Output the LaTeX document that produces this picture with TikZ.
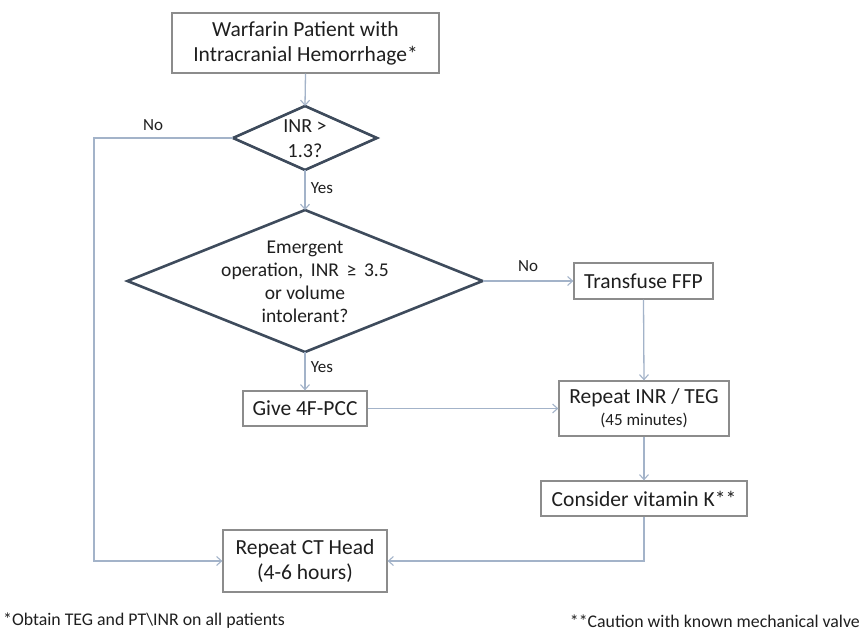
\documentclass[tikz,border=0pt]{standalone}
\usepackage{fontspec}
\setmainfont{Carlito}
\usetikzlibrary{shapes.geometric,arrows.meta}
\definecolor{boxc}{HTML}{8C8C8C}
\definecolor{diac}{HTML}{3E4B5C}
\definecolor{conc}{HTML}{A3B3C9}
\definecolor{txtc}{HTML}{1F1F1F}
\tikzset{
  stepbox/.style={draw=boxc, line width=1.3pt, fill=white, inner sep=0pt, align=center,
    text=txtc, font=\fontsize{21.5}{25}\selectfont},
  decide/.style={draw=diac, line width=2.6pt, diamond, inner sep=0pt, outer sep=0pt},
  dtext/.style={align=center, text=txtc, inner sep=0pt},
  conn/.style={draw=conc, line width=1.3pt, -{Straight Barb[length=5pt,width=9pt,line width=1.1pt]}},
  lbl/.style={text=txtc, font=\fontsize{17}{19}\selectfont, inner sep=0pt},
  note/.style={text=txtc, font=\fontsize{17.8}{20}\selectfont, inner sep=0pt}
}
\begin{document}
\begin{tikzpicture}[x=1pt,y=-1pt]
\useasboundingbox[fill=white] (0,0) rectangle (860,634);

% nodes
\node[stepbox, minimum width=267pt, minimum height=60pt] (top) at (305.5,43)
  {Warfarin Patient with\\Intracranial Hemorrhage*};
\node[decide, minimum width=144pt, minimum height=64pt] (d1) at (305,138) {};
\node[dtext, font=\fontsize{20}{25}\selectfont] (d1t) at (305,139) {INR >\\1.3?};
\node[decide, minimum width=355pt, minimum height=142pt] (d2) at (305,281) {};
\node[dtext, font=\fontsize{19.5}{23}\selectfont] (d2t) at (305,282)
  {Emergent\\operation,\, INR\, ≥\, 3.5\\or volume\\intolerant?};
\node[stepbox, minimum width=139pt, minimum height=36pt] (ffp) at (643.5,281) {Transfuse FFP};
\node[stepbox, minimum width=124pt, minimum height=35pt] (pcc) at (305,408.5) {Give 4F-PCC};
\node[stepbox, minimum width=170pt, minimum height=55pt] (inr) at (644,408.5)
  {Repeat INR / TEG\\[-3pt]{\fontsize{17}{19}\selectfont (45 minutes)}};
\node[stepbox, minimum width=206pt, minimum height=35pt] (vitk) at (644,498.5) {Consider vitamin K**};
\node[stepbox, minimum width=164pt, minimum height=62pt] (ct) at (305,561)
  {Repeat CT Head\\(4-6 hours)};

% connector corner points
\coordinate (c1) at (94,138);
\coordinate (c2) at (94,561);
\coordinate (c3) at (644,561);

% connectors
\draw[conn] (top.south) -- (d1.north);
\draw[conn] (d1.west) -- (c1) -- (c2) -- (ct.west);
\draw[conn] (d1.south) -- (d2.north);
\draw[conn] (d2.east) -- (ffp.west);
\draw[conn] (d2.south) -- (pcc.north);
\draw[conn] (pcc.east) -- (inr.west);
\draw[conn] (ffp.south) -- (inr.north);
\draw[conn] (inr.south) -- (vitk.north);
\draw[conn] (vitk.south) -- (c3) -- (ct.east);

% labels
\node[lbl] (no1) at (153,125) {No};
\node[lbl] (yes1) at (322,188) {Yes};
\node[lbl] (no2) at (528,266) {No};
\node[lbl] (yes2) at (322,367) {Yes};

% footnotes
\node[note, anchor=west] (n1) at (3,621) {*Obtain TEG and PT\textbackslash INR on all patients};
\node[note, anchor=east] (n2) at (860,621) {**Caution with known mechanical valve};
\end{tikzpicture}
\end{document}
